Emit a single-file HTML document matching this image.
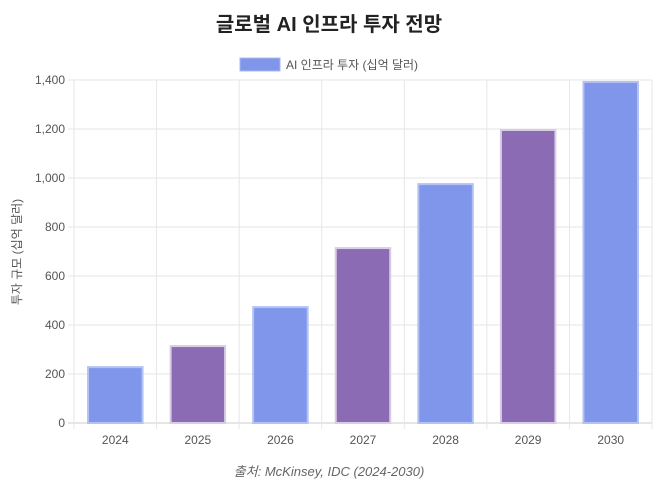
<!DOCTYPE html>
<html><head><meta charset="utf-8"><style>
body{margin:0;background:#fff;width:658px;height:486px;overflow:hidden;font-family:"Liberation Sans","Noto Sans CJK KR",sans-serif}
</style></head><body>
<svg id="chart" width="658" height="486" xmlns="http://www.w3.org/2000/svg">
<text x="329" y="31" text-anchor="middle" font-size="20" font-weight="bold" fill="#222" font-family="Liberation Sans,Noto Sans CJK KR,sans-serif">글로벌 AI 인프라 투자 전망</text>
<g>
<rect x="240" y="58" width="40" height="13" fill="#7f96ea" stroke="#a9b8f0" stroke-width="1"/>
<text x="286" y="69" font-size="12" fill="#555" font-family="Liberation Sans,Noto Sans CJK KR,sans-serif">AI 인프라 투자 (십억 달러)</text>
</g>
<text transform="translate(21,252) rotate(-90)" text-anchor="middle" font-size="12" fill="#555" font-family="Liberation Sans,Noto Sans CJK KR,sans-serif">투자 규모 (십억 달러)</text>
<g id="grid"></g><g id="bars"></g><g id="axes"></g>
<text x="329" y="476" text-anchor="middle" font-size="13" font-style="italic" fill="#666" font-family="Liberation Sans,Noto Sans CJK KR,sans-serif">출처: McKinsey, IDC (2024-2030)</text>
</svg>
<script>
const categories=["2024","2025","2026","2027","2028","2029","2030"];
const values=[228,314,473,714,975,1196,1392];
const yTicks=[0,200,400,600,800,1000,1200,1400];
const ns="http://www.w3.org/2000/svg";
const L=74,R=652,T=80,B=423,ymax=1400;
const bw=(R-L)/categories.length;
const y=v=>B-(B-T)*v/ymax;
const x=i=>L+bw*i;
function mk(tag,attrs,parent){const e=document.createElementNS(ns,tag);for(const k in attrs)e.setAttribute(k,attrs[k]);document.getElementById(parent).appendChild(e);return e;}
yTicks.forEach(t=>{
  const g=mk('line',{x1:L-6,x2:R,y1:y(t),y2:y(t),stroke:t===0?'#ccc':'#e6e6e6'},'grid');
  
  
  const tx=mk('text',{x:L-9,y:y(t)+4,'text-anchor':'end','font-size':12,fill:'#555'},'axes');
  tx.textContent=t.toLocaleString('en-US');
  
  
});
for(let i=0;i<=categories.length;i++){
  const g=mk('line',{x1:x(i),x2:x(i),y1:T,y2:B+6,stroke:'#e6e6e6'},'grid');
  
  
}
categories.forEach((c,i)=>{
  const blue=i%2===0;
  const r=mk('rect',{x:x(i)+bw*0.17,y:y(values[i]),width:bw*0.66,height:B-y(values[i]),fill:blue?'#7f96ea':'#8b6bb3',stroke:blue?'#b3c1f3':'#d9cde6','stroke-width':2},'bars');
  
  
  const tx=mk('text',{x:x(i)+bw/2,y:B+21,'text-anchor':'middle','font-size':12,fill:'#555'},'axes');
  tx.textContent=c;
  
  
});
</script>
</body></html>
